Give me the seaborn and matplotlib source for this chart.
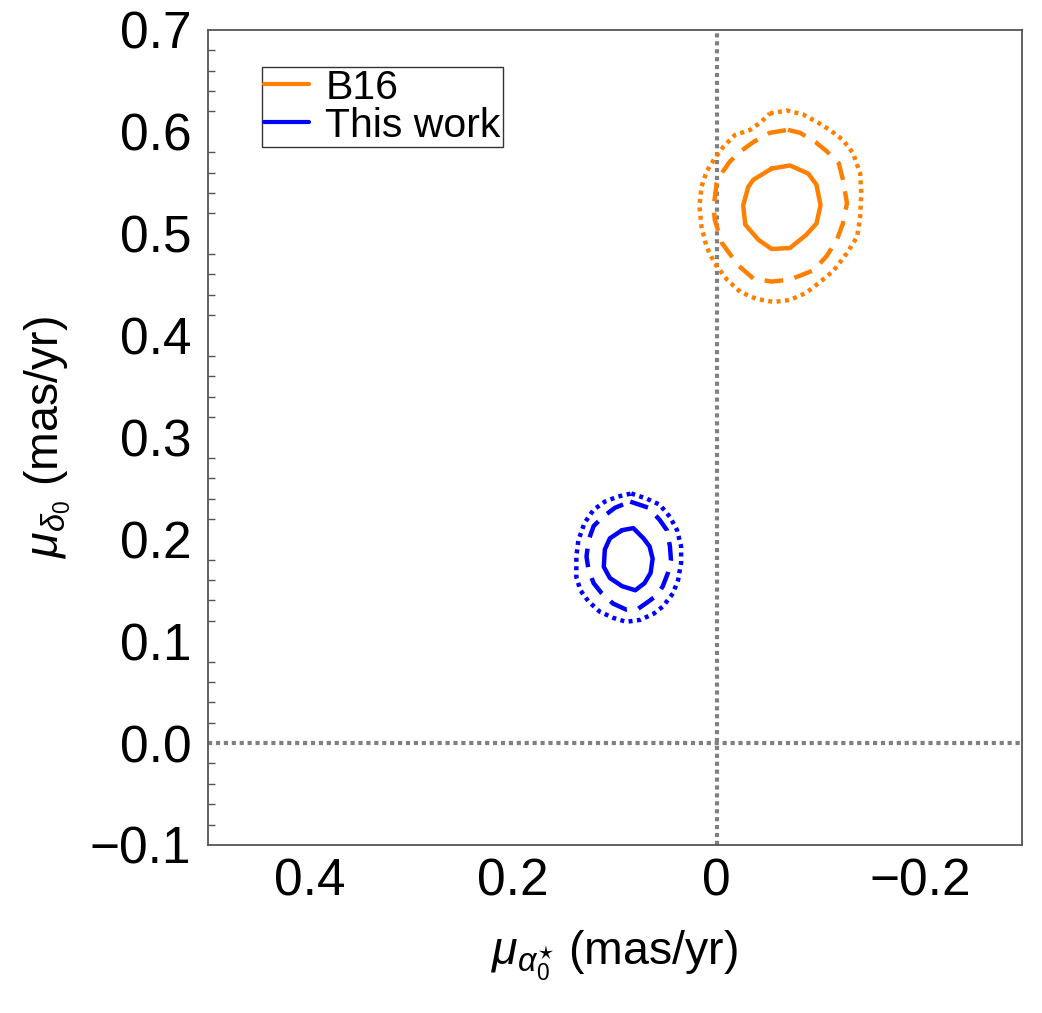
import numpy as np
import pandas as pd
import matplotlib
matplotlib.use("Agg")
import matplotlib.pyplot as plt
import seaborn as sns
from matplotlib.lines import Line2D
from matplotlib.ticker import MultipleLocator, FixedLocator

# contour paths (mas/yr)
b16_solid_x = [-0.054, -0.072, -0.090, -0.098, -0.102, -0.098, -0.088, -0.072, -0.054,
               -0.041, -0.028, -0.026, -0.031, -0.036, -0.054]
b16_solid_y = [0.564, 0.567, 0.559, 0.548, 0.528, 0.510, 0.499, 0.486, 0.485,
               0.494, 0.509, 0.528, 0.546, 0.553, 0.564]

b16_dash_x = [-0.070, -0.082, -0.097, -0.108, -0.120, -0.124, -0.128, -0.124, -0.118,
              -0.108, -0.095, -0.072, -0.054, -0.036, -0.021, -0.005, 0.002, 0.003,
              0.000, -0.006, -0.013, -0.025, -0.036, -0.052, -0.070]
b16_dash_y = [0.602, 0.599, 0.590, 0.581, 0.569, 0.553, 0.530, 0.510, 0.494,
              0.478, 0.464, 0.455, 0.453, 0.456, 0.469, 0.491, 0.514, 0.527,
              0.550, 0.561, 0.571, 0.582, 0.590, 0.599, 0.602]

b16_dot_x = [-0.052, -0.069, -0.085, -0.098, -0.111, -0.124, -0.134, -0.141, -0.142,
             -0.141, -0.138, -0.128, -0.115, -0.102, -0.088, -0.072, -0.056, -0.039,
             -0.023, -0.010, 0.002, 0.010, 0.015, 0.017, 0.015, 0.010, 0.002,
             -0.007, -0.018, -0.033, -0.044, -0.052]
b16_dot_y = [0.618, 0.621, 0.617, 0.610, 0.602, 0.592, 0.579, 0.559, 0.540,
             0.517, 0.497, 0.481, 0.464, 0.453, 0.442, 0.435, 0.433, 0.436,
             0.443, 0.455, 0.471, 0.487, 0.507, 0.527, 0.546, 0.561, 0.574,
             0.586, 0.597, 0.602, 0.610, 0.618]

tw_solid_x = [0.093, 0.082, 0.072, 0.066, 0.063, 0.065, 0.071, 0.080, 0.093,
              0.105, 0.111, 0.110, 0.105, 0.093]
tw_solid_y = [0.209, 0.211, 0.201, 0.193, 0.181, 0.167, 0.157, 0.150, 0.154,
              0.162, 0.173, 0.190, 0.201, 0.209]

tw_dash_x = [0.085, 0.067, 0.056, 0.049, 0.046, 0.045, 0.048, 0.053, 0.059,
             0.067, 0.077, 0.089, 0.102, 0.113, 0.121, 0.126, 0.128, 0.126,
             0.121, 0.112, 0.100, 0.085]
tw_dash_y = [0.237, 0.231, 0.219, 0.209, 0.193, 0.180, 0.167, 0.154, 0.145,
             0.139, 0.132, 0.131, 0.137, 0.147, 0.157, 0.170, 0.183, 0.199,
             0.213, 0.222, 0.231, 0.237]

tw_dot_x = [0.084, 0.069, 0.056, 0.046, 0.039, 0.035, 0.035, 0.038, 0.043,
            0.053, 0.062, 0.075, 0.089, 0.102, 0.115, 0.126, 0.134, 0.138,
            0.138, 0.136, 0.130, 0.121, 0.110, 0.097, 0.084]
tw_dot_y = [0.245, 0.240, 0.234, 0.222, 0.209, 0.193, 0.177, 0.160, 0.147,
            0.134, 0.127, 0.121, 0.119, 0.123, 0.129, 0.139, 0.150, 0.163,
            0.183, 0.199, 0.216, 0.229, 0.237, 0.242, 0.245]

x_ticks = [0.4, 0.2, 0.0, -0.2]
x_ticklabels = ["0.4", "0.2", "0", "\u22120.2"]
y_ticks = [-0.1, 0.0, 0.1, 0.2, 0.3, 0.4, 0.5, 0.6, 0.7]
y_ticklabels = ["\u22120.1", "0.0", "0.1", "0.2", "0.3", "0.4", "0.5", "0.6", "0.7"]
legend_labels = ["B16", "This work"]


def main():
    sns.set_style("white")
    plt.rcParams["font.family"] = ["Liberation Sans", "DejaVu Sans"]
    plt.rcParams["mathtext.fontset"] = "custom"
    plt.rcParams["mathtext.rm"] = "Liberation Sans"
    plt.rcParams["mathtext.it"] = "Liberation Sans:italic"
    plt.rcParams["mathtext.sf"] = "Liberation Sans"
    plt.rcParams["text.color"] = "black"
    plt.rcParams["axes.labelcolor"] = "black"
    plt.rcParams["xtick.color"] = "black"
    plt.rcParams["ytick.color"] = "black"

    orange = "#FF8000"
    blue = "#0000FF"
    grey = "#808080"

    fig = plt.figure(figsize=(10.42, 10.13), dpi=100)
    ax = fig.add_axes([0.1996, 0.1659, 0.7812, 0.8045])

    ax.axvline(0, color=grey, lw=3.0, ls=(0, (1.0, 0.9)), zorder=1)
    ax.axhline(0, color=grey, lw=3.0, ls=(0, (1.0, 0.9)), zorder=1)

    styles = {"solid": "-", "dash": (0, (4.2, 2.6)), "dot": (0, (0.9, 1.0))}
    paths = [
        (b16_solid_x, b16_solid_y, orange, "solid"),
        (b16_dash_x, b16_dash_y, orange, "dash"),
        (b16_dot_x, b16_dot_y, orange, "dot"),
        (tw_solid_x, tw_solid_y, blue, "solid"),
        (tw_dash_x, tw_dash_y, blue, "dash"),
        (tw_dot_x, tw_dot_y, blue, "dot"),
    ]
    for xs, ys, col, lev in paths:
        d = pd.DataFrame({"x": xs, "y": ys})
        sns.lineplot(data=d, x="x", y="y", sort=False, estimator=None, ax=ax,
                     color=col, lw=3.2, linestyle=styles[lev], zorder=3)

    ax.set_xlim(0.5, -0.3)
    ax.set_ylim(-0.1, 0.7)
    ax.xaxis.set_major_locator(FixedLocator(x_ticks))
    ax.set_xticklabels(x_ticklabels)
    ax.yaxis.set_major_locator(FixedLocator(y_ticks))
    ax.set_yticklabels(y_ticklabels)
    ax.yaxis.set_minor_locator(MultipleLocator(0.02))

    ax.tick_params(axis="both", which="major", direction="in", length=8,
                   width=1.0, color="#555555", labelcolor="black",
                   labelsize=37, pad=9, top=False, right=False)
    ax.tick_params(axis="y", which="minor", direction="in", length=5,
                   width=1.0, color="#555555", left=True, right=False)
    ax.tick_params(axis="y", which="major", pad=12)
    for sp in ax.spines.values():
        sp.set_color("#555555")
        sp.set_linewidth(1.3)

    ax.set_xlabel(r"$\mu_{\alpha_0^{\star}}$ (mas/yr)", fontsize=33.5,
                  labelpad=16, color="black")
    ax.set_ylabel(r"$\mu_{\delta_0}$ (mas/yr)", fontsize=33.5, labelpad=12,
                  color="black")

    handles = [Line2D([0], [0], color=orange, lw=3.0),
               Line2D([0], [0], color=blue, lw=3.0)]
    leg = ax.legend(handles, legend_labels, loc="upper left",
                    bbox_to_anchor=(0.066, 0.955), fontsize=29.5, frameon=True,
                    fancybox=False, edgecolor="#333333", framealpha=1,
                    handlelength=1.1, handletextpad=0.4, borderpad=0.05,
                    labelspacing=0.0, borderaxespad=0)
    leg.get_frame().set_linewidth(1.0)
    for t in leg.get_texts():
        t.set_color("black")

    fig.savefig("out.png", dpi=100)
    plt.close(fig)


if __name__ == "__main__":
    main()
